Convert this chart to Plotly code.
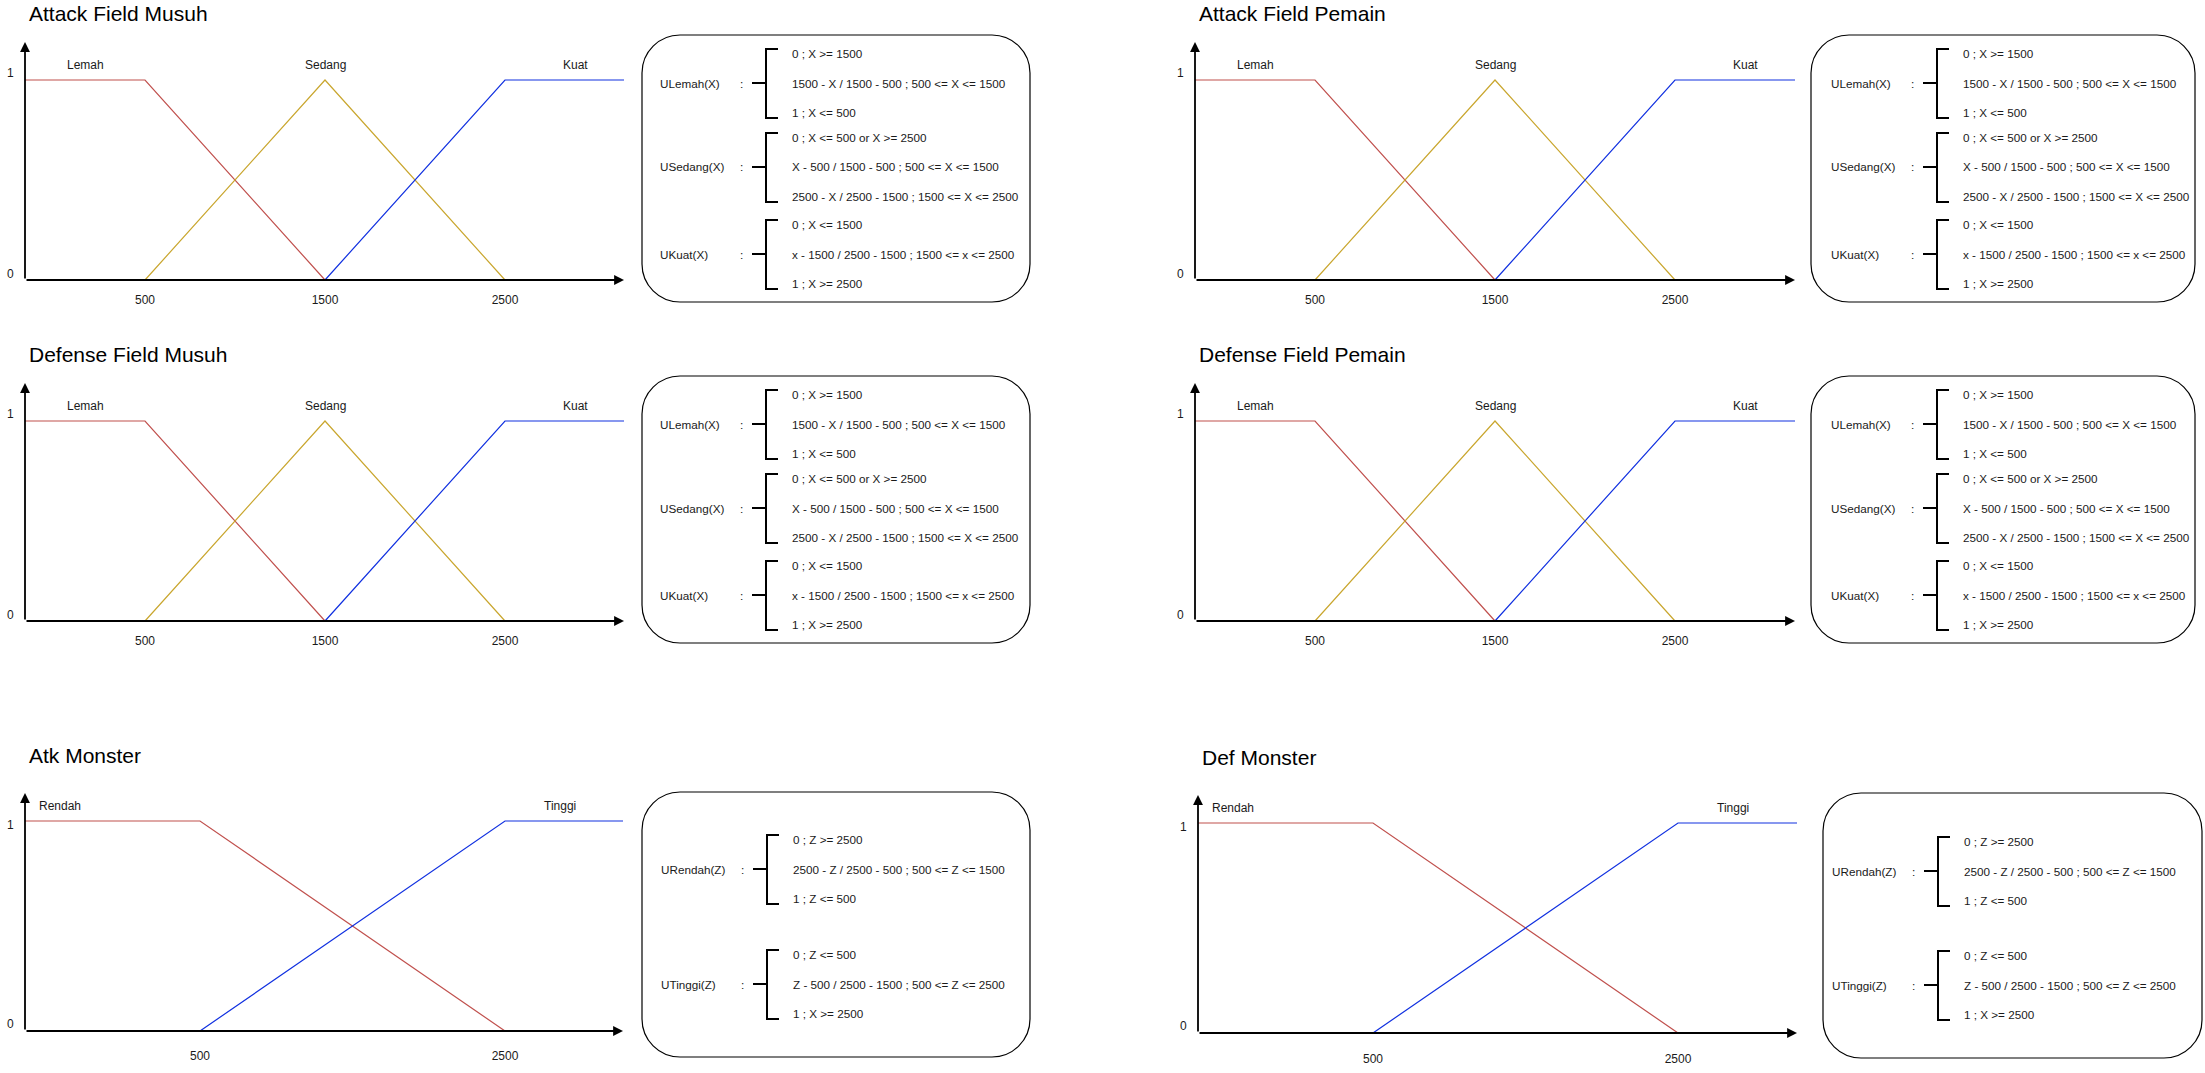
import plotly.graph_objects as go

W, H = 2205, 1073

# ---------------- data ----------------
field_titles = ["Attack Field Musuh", "Attack Field Pemain", "Defense Field Musuh", "Defense Field Pemain"]
monster_titles = ["Atk Monster", "Def Monster"]

x_ticks_field = [500, 1500, 2500]
x_ticks_monster = [500, 2500]
y_ticks = [0, 1]

field_set_names = ["Lemah", "Sedang", "Kuat"]
lemah_x = [500, 1500]
lemah_mu = [1, 0]
sedang_x = [500, 1500, 2500]
sedang_mu = [0, 1, 0]
kuat_x = [1500, 2500]
kuat_mu = [0, 1]

monster_set_names = ["Rendah", "Tinggi"]
rendah_x = [500, 2500]
rendah_mu = [1, 0]
tinggi_x = [500, 2500]
tinggi_mu = [0, 1]

field_fn_labels = ["ULemah(X)", "USedang(X)", "UKuat(X)"]
field_fn_rules = [
    ["0 ; X >= 1500", "1500 - X / 1500 - 500 ; 500 <= X <= 1500", "1 ; X <= 500"],
    ["0 ; X <= 500 or X >= 2500", "X - 500 / 1500 - 500 ; 500 <= X <= 1500",
     "2500 - X / 2500 - 1500 ; 1500 <= X <= 2500"],
    ["0 ; X <= 1500", "x - 1500 / 2500 - 1500 ; 1500 <= x <= 2500", "1 ; X >= 2500"],
]
monster_fn_labels = ["URendah(Z)", "UTinggi(Z)"]
monster_fn_rules = [
    ["0 ; Z >= 2500", "2500 - Z / 2500 - 500 ; 500 <= Z <= 1500", "1 ; Z <= 500"],
    ["0 ; Z <= 500", "Z - 500 / 2500 - 1500 ; 500 <= Z <= 2500", "1 ; X >= 2500"],
]

# ---------------- styles / layout (pixels) ----------------
RED = "#c0504d"
YEL = "#c9a62e"
BLUE = "#1030e0"
INK = "#1a1a1a"
SANS = "Liberation Sans, Arial, sans-serif"
FN_SIZE = 11.7

R2 = 341  # row 2 vertical offset


def field_panel(title, ax_l, ax_r, p500, p2500, dy, title_x, lab_x, box, fn_x):
    return dict(kind="field", title=title, ax_l=ax_l, ax_r=ax_r, top=42 + dy, base=280 + dy,
                one=80 + dy, p500=p500, p2500=p2500, title_xy=(title_x, 14 + dy),
                lab=[(x, 65 + dy) for x in lab_x], ylab_x=ax_l - 15,
                ylab_shift={0: 6, 1: 7}, xstand=11,
                box=(box[0], 35 + dy, box[1], 302 + dy), fn_x=fn_x,
                fn_cy=[83 + dy, 167 + dy, 254 + dy])


panels = [
    field_panel(field_titles[0], 25, 624, 145, 505, 0, 27, [85, 325, 575], (642, 1030), 658),
    field_panel(field_titles[1], 1195, 1795, 1315, 1675, 0, 1197, [1255, 1495, 1745], (1811, 2195), 1829),
    field_panel(field_titles[2], 25, 624, 145, 505, R2, 27, [85, 325, 575], (642, 1030), 658),
    field_panel(field_titles[3], 1195, 1795, 1315, 1675, R2, 1197, [1255, 1495, 1745], (1811, 2195), 1829),
    dict(kind="monster", title=monster_titles[0], ax_l=25, ax_r=623, top=793, base=1031, one=821,
         p500=200, p2500=505, title_xy=(27, 755), lab=[(60, 806), (560, 806)], ylab_x=10,
         ylab_shift={0: 7, 1: -4}, xstand=16, box=(642, 792, 1030, 1057), fn_x=659, fn_cy=[869, 984]),
    dict(kind="monster", title=monster_titles[1], ax_l=1198, ax_r=1797, top=795, base=1033, one=823,
         p500=1373, p2500=1678, title_xy=(1200, 757), lab=[(1233, 808), (1733, 808)], ylab_x=1183,
         ylab_shift={0: 7, 1: -4}, xstand=17, box=(1823, 793, 2202, 1058), fn_x=1830, fn_cy=[871, 985]),
]


def fx(px):
    return px / W


def fy(py):
    return 1 - py / H


def rounded_rect(x0, y0, x1, y1, r):
    k = 0.5523 * r
    pts = [
        f"M {fx(x0 + r)},{fy(y0)}",
        f"L {fx(x1 - r)},{fy(y0)}",
        f"C {fx(x1 - r + k)},{fy(y0)} {fx(x1)},{fy(y0 + r - k)} {fx(x1)},{fy(y0 + r)}",
        f"L {fx(x1)},{fy(y1 - r)}",
        f"C {fx(x1)},{fy(y1 - r + k)} {fx(x1 - r + k)},{fy(y1)} {fx(x1 - r)},{fy(y1)}",
        f"L {fx(x0 + r)},{fy(y1)}",
        f"C {fx(x0 + r - k)},{fy(y1)} {fx(x0)},{fy(y1 - r + k)} {fx(x0)},{fy(y1 - r)}",
        f"L {fx(x0)},{fy(y0 + r)}",
        f"C {fx(x0)},{fy(y0 + r - k)} {fx(x0 + r - k)},{fy(y0)} {fx(x0 + r)},{fy(y0)}",
        "Z",
    ]
    return " ".join(pts)


fig = go.Figure()
axes = {}
annotations = []
shapes = []

for i, p in enumerate(panels):
    n = i + 1
    xa = "x" if n == 1 else f"x{n}"
    ya = "y" if n == 1 else f"y{n}"
    xkey = "xaxis" if n == 1 else f"xaxis{n}"
    ykey = "yaxis" if n == 1 else f"yaxis{n}"

    s = (p["p2500"] - p["p500"]) / 2000.0
    x_lo = 500 + (p["ax_l"] - p["p500"]) / s
    x_hi = 500 + (p["ax_r"] - p["p500"]) / s
    t = float(p["base"] - p["one"])
    pad = 4
    y_lo = -pad / t
    y_hi = (p["base"] - p["top"]) / t

    ticks = x_ticks_field if p["kind"] == "field" else x_ticks_monster
    axes[xkey] = dict(domain=[fx(p["ax_l"]), fx(p["ax_r"])], range=[x_lo, x_hi],
                      anchor="free", position=fy(p["base"]),
                      showgrid=False, zeroline=False, showline=False, ticks="",
                      tickvals=ticks, ticktext=[str(v) for v in ticks],
                      tickfont=dict(family=SANS, size=12, color=INK),
                      ticklabelstandoff=p["xstand"], fixedrange=True)
    axes[ykey] = dict(domain=[fy(p["base"] + pad), fy(p["top"])], range=[y_lo, y_hi],
                      anchor=xa, showgrid=False, zeroline=False, showline=False,
                      showticklabels=False, fixedrange=True)

    if p["kind"] == "field":
        series = [
            ([x_lo] + lemah_x, [lemah_mu[0]] + lemah_mu, RED, field_set_names[0]),
            (sedang_x, sedang_mu, YEL, field_set_names[1]),
            (kuat_x + [x_hi], kuat_mu + [kuat_mu[-1]], BLUE, field_set_names[2]),
        ]
        names = field_set_names
        fn_labels, fn_rules = field_fn_labels, field_fn_rules
    else:
        series = [
            ([x_lo] + rendah_x, [rendah_mu[0]] + rendah_mu, RED, monster_set_names[0]),
            (tinggi_x + [x_hi], tinggi_mu + [tinggi_mu[-1]], BLUE, monster_set_names[1]),
        ]
        names = monster_set_names
        fn_labels, fn_rules = monster_fn_labels, monster_fn_rules

    for xs, ys, col, nm in series:
        fig.add_trace(go.Scatter(x=xs, y=ys, mode="lines", name=nm, showlegend=False,
                                 line=dict(color=col, width=1.2), xaxis=xa, yaxis=ya,
                                 hoverinfo="skip"))

    # axes with arrow heads
    annotations.append(dict(x=x_hi, y=0, ax=x_lo, ay=0, xref=xa, yref=ya, axref=xa, ayref=ya,
                            text="", showarrow=True, arrowhead=2, arrowsize=1.1,
                            arrowwidth=1.8, arrowcolor="black", standoff=0, startstandoff=0))
    annotations.append(dict(x=x_lo, y=y_hi, ax=x_lo, ay=0, xref=xa, yref=ya, axref=xa, ayref=ya,
                            text="", showarrow=True, arrowhead=2, arrowsize=1.1,
                            arrowwidth=1.8, arrowcolor="black", standoff=0, startstandoff=0))

    # y tick labels
    for v in y_ticks:
        annotations.append(dict(x=fx(p["ylab_x"]), y=v, xref="paper", yref=ya, text=str(v),
                                showarrow=False, xanchor="center", yanchor="middle",
                                yshift=p["ylab_shift"][v],
                                font=dict(family=SANS, size=12, color=INK)))

    # title
    tx, ty = p["title_xy"]
    annotations.append(dict(x=fx(tx), y=fy(ty), xref="paper", yref="paper", text=p["title"],
                            showarrow=False, xanchor="left", yanchor="middle",
                            font=dict(family=SANS, size=21, color="black")))

    # set names
    for nm, (lx, ly) in zip(names, p["lab"]):
        annotations.append(dict(x=fx(lx), y=fy(ly), xref="paper", yref="paper", text=nm,
                                showarrow=False, xanchor="center", yanchor="middle",
                                font=dict(family=SANS, size=12, color=INK)))

    # formula box
    bx0, by0, bx1, by1 = p["box"]
    shapes.append(dict(type="path", xref="paper", yref="paper",
                       path=rounded_rect(bx0, by0, bx1, by1, 38),
                       line=dict(color="black", width=1.2), fillcolor="rgba(0,0,0,0)"))
    fx0 = p["fn_x"]
    for lbl, rules, cy in zip(fn_labels, fn_rules, p["fn_cy"]):
        annotations.append(dict(x=fx(fx0), y=fy(cy), xref="paper", yref="paper", text=lbl,
                                showarrow=False, xanchor="left", yanchor="middle",
                                font=dict(family=SANS, size=FN_SIZE, color=INK)))
        annotations.append(dict(x=fx(fx0 + 83), y=fy(cy), xref="paper", yref="paper", text=":",
                                showarrow=False, xanchor="center", yanchor="middle",
                                font=dict(family=SANS, size=FN_SIZE, color=INK)))
        bx = fx0 + 108
        top, bot = cy - 34, cy + 35
        path = (f"M {fx(bx + 12)},{fy(top)} L {fx(bx)},{fy(top)} L {fx(bx)},{fy(bot)} "
                f"L {fx(bx + 12)},{fy(bot)} M {fx(bx - 14)},{fy(cy)} L {fx(bx)},{fy(cy)}")
        shapes.append(dict(type="path", xref="paper", yref="paper", path=path,
                           line=dict(color="black", width=2)))
        for rule, dyy in zip(rules, [-29.5, 0, 29.5]):
            annotations.append(dict(x=fx(fx0 + 132), y=fy(cy + dyy), xref="paper", yref="paper",
                                    text=rule, showarrow=False, xanchor="left", yanchor="middle",
                                    font=dict(family=SANS, size=FN_SIZE, color=INK)))

fig.update_layout(
    width=W, height=H, margin=dict(l=0, r=0, t=0, b=0),
    paper_bgcolor="white", plot_bgcolor="white", showlegend=False,
    annotations=annotations, shapes=shapes, **axes,
)

fig.write_html("out.html", config={"displayModeBar": False})
